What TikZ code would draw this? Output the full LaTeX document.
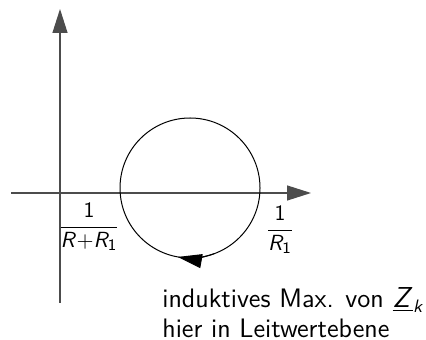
\documentclass[tikz,border=0pt]{standalone}
\usetikzlibrary{arrows.meta,positioning}
\DeclareMathAlphabet{\mathsfit}{OT1}{cmss}{m}{sl}
\newcommand{\sfR}{\mathsfit{R}}
\tikzset{
  axis/.style={-{Triangle[length=12pt,width=7.5pt]}, draw=black!70, line width=0.65pt},
  ortskurve/.style={circle, draw, line width=0.5pt, minimum size=70pt, inner sep=0pt, outer sep=0pt},
  richtung/.style={-{Triangle[length=12pt,width=7pt]}, line width=0.5pt},
  lbl/.style={font=\fontsize{13.35}{15}\selectfont\sffamily, inner sep=1pt},
  bruch/.style={font=\fontsize{10.8}{13}\selectfont\sffamily, inner sep=1pt, anchor=north},
}
\begin{document}
\begin{tikzpicture}[x=0.5pt, y=-0.5pt]
\useasboundingbox (0,0) rectangle (426,340);

% -------------------- Axes --------------------
\coordinate (xa) at (11,193);
\coordinate (xe) at (311,193);
\coordinate (ya) at (60,303);
\coordinate (ye) at (60,9);
\draw[axis] (xa) -- (xe);
\draw[axis] (ya) -- (ye);

% -------------------- Circle --------------------
\node[ortskurve] (kreis) at (190,188) {};
\draw[richtung] (kreis.290) arc[start angle=290, end angle=260, radius=35pt];

% -------------------- Labels --------------------
\node[bruch] (gmin) at (89,201)
  {$\displaystyle\frac{\mathsf{1}}{\sfR{+}\sfR_{\mathsf{1}}}$};
\node[bruch] (gmax) at (280,204)
  {$\displaystyle\frac{\mathsf{1}}{\sfR_{\mathsf{1}}}$};
\node[lbl, anchor=north west, align=left] (text) at (160,285)
  {induktives Max. von $\underline{\mathsfit{Z}}_{\mathsfit{k}}$\\hier in Leitwertebene};

\end{tikzpicture}
\end{document}
